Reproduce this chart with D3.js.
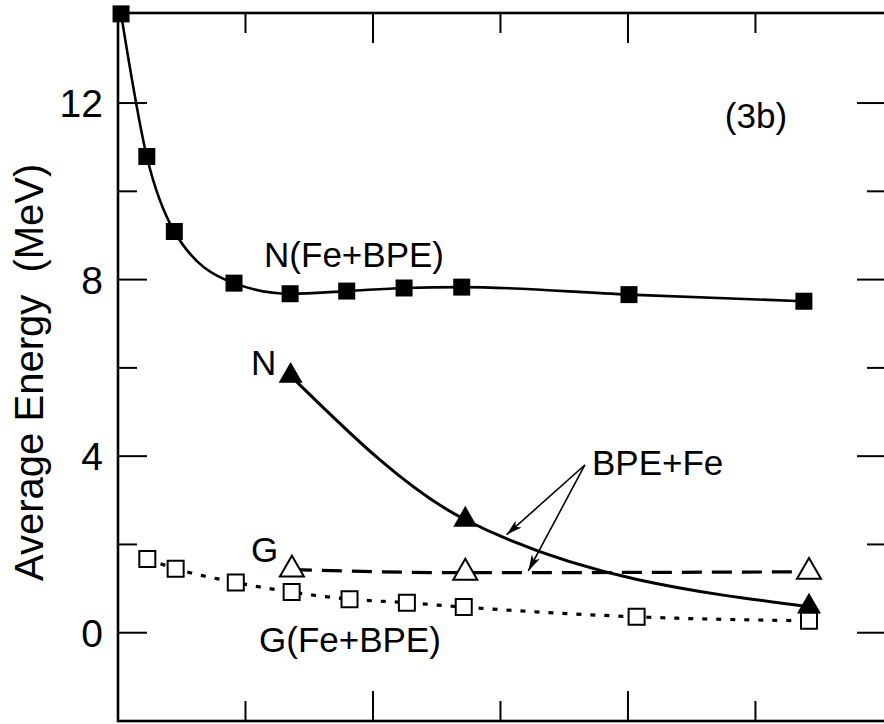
<!DOCTYPE html>
<html>
<head>
<meta charset="utf-8">
<script src="https://cdn.jsdelivr.net/npm/d3@7"></script>
<style>
  body { margin: 0; background: #fff; }
  text { font-family: "Liberation Sans", Arial, Helvetica, sans-serif; fill: #000; }
</style>
</head>
<body>
<div id="chart"></div>
<script>
// N(Fe+BPE): filled squares, solid line
var nFeBpeX = [0.012, 0.113, 0.221, 0.455, 0.675, 0.897, 1.122, 1.348, 2.004, 2.690]
var nFeBpeY = [14.02, 10.79, 9.09, 7.92, 7.68, 7.74, 7.81, 7.83, 7.66, 7.51]
// N (BPE+Fe): filled triangles, solid line
var nX = [0.677, 1.362, 2.710]
var nY = [5.82, 2.56, 0.59]
// G (BPE+Fe): open triangles, dashed line
var gX = [0.682, 1.362, 2.710]
var gY = [1.43, 1.36, 1.38]
// G(Fe+BPE): open squares, dotted line
var gFeBpeX = [0.115, 0.226, 0.462, 0.681, 0.908, 1.133, 1.356, 2.034, 2.710]
var gFeBpeY = [1.67, 1.45, 1.14, 0.92, 0.76, 0.68, 0.58, 0.36, 0.27]

var yMajor = [0, 4, 8, 12]
var yMinor = [2, 6, 10]
var xMajor = [1, 2]
var xMinor = [0.5, 1.5, 2.5]
var xMax = 3.012
var yMin = -2, yMax = 14.04

var width = 884, height = 724
var plotLeft = 118, plotRight = 886, plotTop = 13, plotBottom = 721

var svg = d3.select("#chart").append("svg")
  .attr("width", width)
  .attr("height", height)

var x = d3.scaleLinear().domain([0, xMax]).range([plotLeft, plotRight])
var y = d3.scaleLinear().domain([yMin, yMax]).range([plotBottom, plotTop])

function pts(xs, ys) {
  return xs.map(function(v, i) { return [v, ys[i]] })
}

// frame
svg.append("rect")
  .attr("x", x(0)).attr("y", y(yMax))
  .attr("width", x(xMax) - x(0)).attr("height", y(yMin) - y(yMax))
  .attr("fill", "none").attr("stroke", "#000").attr("stroke-width", 2.6)

// ticks (inward, all four sides)
var ticks = svg.append("g").attr("stroke", "#000").attr("stroke-width", 2)
yMajor.concat(yMinor).forEach(function(v) {
  var len = yMajor.indexOf(v) >= 0 ? 29 : 19
  ticks.append("line").attr("x1", x(0)).attr("x2", x(0) + len).attr("y1", y(v)).attr("y2", y(v))
  ticks.append("line").attr("x1", x(xMax)).attr("x2", x(xMax) - len).attr("y1", y(v)).attr("y2", y(v))
})
xMajor.concat(xMinor).forEach(function(v) {
  var len = xMajor.indexOf(v) >= 0 ? 30 : 20
  ticks.append("line").attr("x1", x(v)).attr("x2", x(v)).attr("y1", y(yMax)).attr("y2", y(yMax) + len)
  ticks.append("line").attr("x1", x(v)).attr("x2", x(v)).attr("y1", y(yMin)).attr("y2", y(yMin) - len)
})

// y tick labels
svg.append("g").selectAll("text")
  .data(yMajor)
  .enter().append("text")
    .attr("x", 103)
    .attr("y", function(d) { return y(d) })
    .attr("dy", "0.36em")
    .attr("text-anchor", "end")
    .style("font-size", "39px")
    .text(function(d) { return d })

// y axis title
svg.append("text")
  .attr("transform", "translate(43," + (y(5.9)) + ") rotate(-90)")
  .attr("text-anchor", "middle")
  .style("font-size", "40px")
  .style("white-space", "pre")
  .text("Average Energy  (MeV)")

var line = d3.line()
  .x(function(d) { return x(d[0]) })
  .y(function(d) { return y(d[1]) })
  .curve(d3.curveMonotoneX)

// curves
svg.append("path").datum(pts(nFeBpeX, nFeBpeY))
  .attr("d", line).attr("fill", "none").attr("stroke", "#000").attr("stroke-width", 2.6)
svg.append("path").datum(pts(gFeBpeX, gFeBpeY))
  .attr("d", line).attr("fill", "none").attr("stroke", "#000").attr("stroke-width", 3.2)
  .attr("stroke-dasharray", "5,9")
svg.append("path").datum(pts(gX, gY))
  .attr("d", line).attr("fill", "none").attr("stroke", "#000").attr("stroke-width", 3.2)
  .attr("stroke-dasharray", "20,10")
svg.append("path").datum(pts(nX, nY))
  .attr("d", line).attr("fill", "none").attr("stroke", "#000").attr("stroke-width", 3)

// markers
var sqFilled = d3.symbol().type(d3.symbolSquare).size(17 * 17)
var sqOpen = d3.symbol().type(d3.symbolSquare).size(16 * 16)
var triangle = d3.symbol().type(d3.symbolTriangle).size(250)

svg.append("g").selectAll("path")
  .data(pts(nFeBpeX, nFeBpeY))
  .enter().append("path")
    .attr("d", sqFilled)
    .attr("transform", function(d) { return "translate(" + x(d[0]) + "," + y(d[1]) + ")" })
    .attr("fill", "#000")

svg.append("g").selectAll("path")
  .data(pts(gX, gY))
  .enter().append("path")
    .attr("d", triangle)
    .attr("transform", function(d) { return "translate(" + x(d[0]) + "," + y(d[1]) + ")" })
    .attr("fill", "#fff").attr("stroke", "#000").attr("stroke-width", 2)

svg.append("g").selectAll("path")
  .data(pts(nX, nY))
  .enter().append("path")
    .attr("d", triangle)
    .attr("transform", function(d) { return "translate(" + x(d[0]) + "," + y(d[1]) + ")" })
    .attr("fill", "#000")

svg.append("g").selectAll("path")
  .data(pts(gFeBpeX, gFeBpeY))
  .enter().append("path")
    .attr("d", sqOpen)
    .attr("transform", function(d) { return "translate(" + x(d[0]) + "," + y(d[1]) + ")" })
    .attr("fill", "#fff").attr("stroke", "#000").attr("stroke-width", 2)

// labels
var labels = [
  { t: "(3b)", x: 2.38, y: 11.43 },
  { t: "N(Fe+BPE)", x: 0.573, y: 8.29 },
  { t: "N", x: 0.522, y: 5.84 },
  { t: "G", x: 0.522, y: 1.61 },
  { t: "G(Fe+BPE)", x: 0.553, y: -0.43 },
  { t: "BPE+Fe", x: 1.859, y: 3.58 }
]
svg.append("g").selectAll("text")
  .data(labels)
  .enter().append("text")
    .attr("x", function(d) { return x(d.x) })
    .attr("y", function(d) { return y(d.y) })
    .style("font-size", "35px")
    .text(function(d) { return d.t })

// arrows from the BPE+Fe label
svg.append("defs").append("marker")
  .attr("id", "head")
  .attr("viewBox", "0 -5 16 10")
  .attr("refX", 16).attr("refY", 0)
  .attr("markerWidth", 16).attr("markerHeight", 10)
  .attr("markerUnits", "userSpaceOnUse")
  .attr("orient", "auto")
  .append("path")
    .attr("d", "M0,-4.5L16,0L0,4.5L4,0Z")
    .attr("fill", "#000")

var arrowFrom = [1.831, 3.80]
var arrowTo = [[1.524, 2.22], [1.609, 1.40]]
arrowTo.forEach(function(p) {
  svg.append("line")
    .attr("x1", x(arrowFrom[0])).attr("y1", y(arrowFrom[1]))
    .attr("x2", x(p[0])).attr("y2", y(p[1]))
    .attr("stroke", "#000").attr("stroke-width", 1.6)
    .attr("marker-end", "url(#head)")
})
</script>
</body>
</html>
